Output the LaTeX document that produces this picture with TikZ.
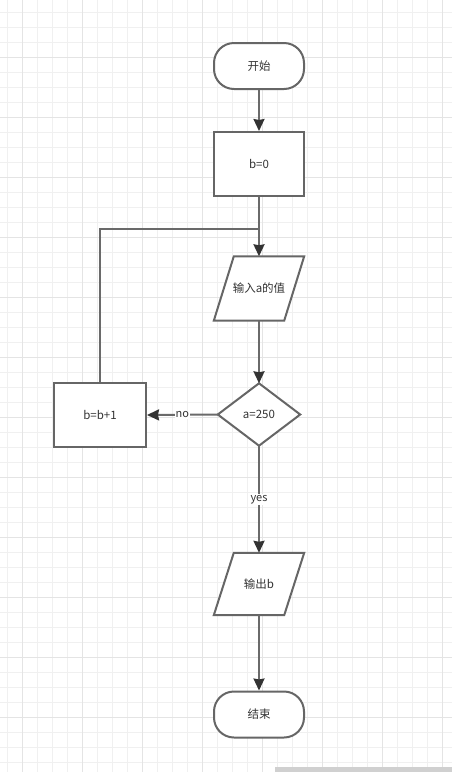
\documentclass[tikz,border=0pt]{standalone}
\usepackage{fontspec}
\setmainfont{Noto Sans CJK SC}
\usetikzlibrary{arrows.meta}
\definecolor{minorgrid}{HTML}{F0F0F0}
\definecolor{majorgrid}{HTML}{E4E4E4}
\definecolor{edgegray}{HTML}{666666}
\definecolor{arrowgray}{HTML}{6A6A6A}
\definecolor{tipgray}{HTML}{333333}
\definecolor{textgray}{HTML}{333333}
\definecolor{scrollgray}{HTML}{D0D0D0}
\tikzset{
  shapebox/.style={draw=edgegray, line width=2pt, fill=white, text=textgray,
    font=\fontsize{11.5}{13}\selectfont, inner sep=0pt},
  terminal/.style={shapebox, rectangle, rounded corners=20pt, minimum width=90pt, minimum height=46pt},
  procbox/.style={shapebox, rectangle, minimum width=90pt, minimum height=64pt},
  iobox/.style={rectangle, draw=none, text=textgray, font=\fontsize{11.5}{13}\selectfont,
    minimum width=90pt, minimum height=64pt, inner sep=0pt},
  ioshape/.style={draw=edgegray, line width=2pt, fill=white},
  decisionbox/.style={draw=none, minimum width=82pt, minimum height=62pt, inner sep=0pt,
    text=textgray, font=\fontsize{11.5}{13}\selectfont},
  flow/.style={draw=arrowgray, line width=2pt, -{Stealth[length=12pt,width=11pt,inset=1pt,color=tipgray]}},
  plainflow/.style={draw=arrowgray, line width=2pt},
  edgelabel/.style={fill=white, text=textgray, font=\fontsize{11}{13}\selectfont, inner sep=1pt}
}
\begin{document}
\begin{tikzpicture}[x=1pt,y=-1pt]
\useasboundingbox (0,0) rectangle (452,772);
\fill[white] (0,0) rectangle (452,772);
% grid
\foreach \gx in {7.5,22.5,...,452} {\draw[minorgrid, line width=1pt] (\gx,0) -- (\gx,772);}
\foreach \gy in {12.5,27.5,...,772} {\draw[minorgrid, line width=1pt] (0,\gy) -- (452,\gy);}
\foreach \gx in {22.5,82.5,...,452} {\draw[majorgrid, line width=1pt] (\gx,0) -- (\gx,772);}
\foreach \gy in {57.5,117.5,...,772} {\draw[majorgrid, line width=1pt] (0,\gy) -- (452,\gy);}
% scrollbar
\fill[scrollgray] (275,767) rectangle (452,772);

% nodes
\node[terminal] (start) at (259,66) {开始};
\node[procbox] (init) at (259,164) {b=0};
\node[iobox] (input) at (259,288.5) {};
\draw[ioshape] ([xshift=20pt]input.north west) -- (input.north east)
  -- ([xshift=-20pt]input.south east) -- (input.south west) -- cycle;
\node[iobox] at (input.center) {输入a的值};
\node[decisionbox] (cond) at (259,414.5) {};
\draw[ioshape] (cond.north) -- (cond.east) -- (cond.south) -- (cond.west) -- cycle;
\node[decisionbox] at (cond.center) {a=250};
\node[procbox, minimum width=92pt] (incr) at (100,415) {b=b+1};
\node[iobox, minimum height=62pt] (output) at (259,584) {};
\draw[ioshape] ([xshift=20pt]output.north west) -- (output.north east)
  -- ([xshift=-20pt]output.south east) -- (output.south west) -- cycle;
\node[iobox] at (output.center) {输出b};
\node[terminal] (stop) at (259,714.5) {结束};
\coordinate (join) at (259,229);

% connectors
\draw[flow] (start) -- (init);
\draw[plainflow] (init) -- (join);
\draw[flow] (join) -- (input.north);
\draw[flow] (input.south) -- (cond.north);
\draw[flow] (cond.west) -- node[edgelabel, pos=0.5] {no} (incr.east);
\draw[plainflow] (incr.north) |- (join);
\draw[flow] (cond.south) -- node[edgelabel, pos=0.5] {yes} (output.north);
\draw[flow] (output.south) -- (stop.north);
\end{tikzpicture}
\end{document}
